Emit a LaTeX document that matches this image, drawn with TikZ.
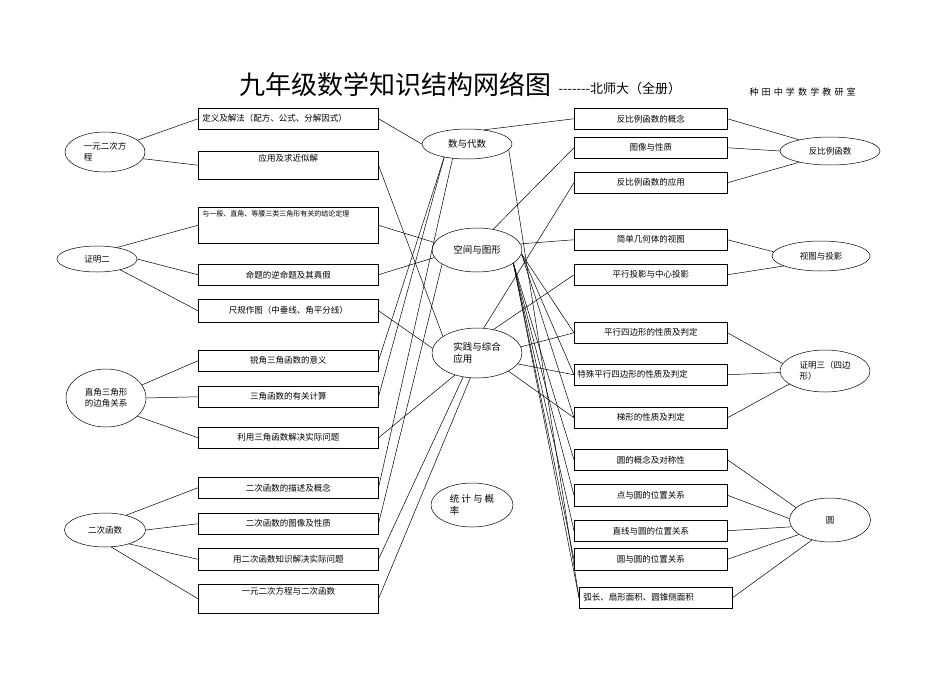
\documentclass[tikz,border=0pt]{standalone}
\usepackage{fontspec}
\setmainfont{Noto Sans CJK SC}
\newfontfamily\spacedcjk[LetterSpace=35]{Noto Sans CJK SC}
\usetikzlibrary{shapes.geometric}
\tikzset{
  box/.style={draw, line width=0.5pt, anchor=north west, minimum width=180, minimum height=21, inner sep=2pt, font=\fontsize{8.5}{10}\selectfont},
  rbox/.style={box, minimum width=153},
  oval/.style={draw, ellipse, line width=0.5pt, inner sep=0pt, align=left, font=\fontsize{8.5}{11}\selectfont},
  link/.style={line width=0.5pt}
}
\begin{document}
\begin{tikzpicture}[x=1pt, y=-1pt]
    \useasboundingbox (0,0) rectangle (950,672);
    \node[anchor=west, font=\fontsize{26}{28}\selectfont] (title) at (236,84) {九年级数学知识结构网络图};
    \node[anchor=west, font=\fontsize{13}{15}\selectfont] (sub) at (555,89) {-{}-{}-{}-{}-{}-{}-北师大（全册）};
    \node[anchor=west, font=\spacedcjk\fontsize{9}{10}\selectfont] (school) at (746,92) {种田中学数学教研室};

    \node[oval, minimum width=80, minimum height=40] (fc) at (105,152) {一元二次方\\程};
    \node[oval, minimum width=80, minimum height=26] (zm2) at (97,259) {证明二};
    \node[oval, minimum width=80, minimum height=58] (sj) at (106,398) {直角三角形\\的边角关系};
    \node[oval, minimum width=81, minimum height=34] (ec) at (105,530) {二次函数};

    \node[box, align=left, text width=172, inner xsep=4pt] (d1) at (198,108) {定义及解法（配方、公式、分解因式）};
    \node[box, minimum height=28, text depth=14pt] (d2) at (198,151) {应用及求近似解};
    \node[box, minimum height=36, text depth=24pt, align=left, text width=172, inner xsep=4pt, font=\fontsize{7}{8}\selectfont] (d3) at (198,207) {与一般、直角、等腰三类三角形有关的结论定理};
    \node[box, minimum height=21] (d4) at (198,264) {命题的逆命题及其真假};
    \node[box, minimum height=23] (d5) at (198,299) {尺规作图（中垂线、角平分线）};
    \node[box] (d6) at (198,350) {锐角三角函数的意义};
    \node[box] (d7) at (198,386) {三角函数的有关计算};
    \node[box] (d8) at (198,427) {利用三角函数解决实际问题};
    \node[box] (d9) at (198,477) {二次函数的描述及概念};
    \node[box] (d10) at (198,513) {二次函数的图像及性质};
    \node[box, minimum height=22] (d11) at (198,548) {用二次函数知识解决实际问题};
    \node[box, minimum height=29, text depth=15pt] (d12) at (198,584) {一元二次方程与二次函数};

    \node[oval, minimum width=90, minimum height=30, font=\fontsize{9.5}{11}\selectfont] (sd) at (467,144) {数与代数};
    \node[oval, minimum width=90, minimum height=44, font=\fontsize{9.5}{11}\selectfont] (kj) at (477,250) {空间与图形};
    \node[oval, minimum width=90, minimum height=50, font=\fontsize{9.5}{12}\selectfont] (sz) at (477,353) {实践与综合\\应用};
    \node[oval, minimum width=82, minimum height=44, font=\fontsize{9.5}{12}\selectfont] (tg) at (472,505) {统 计 与 概\\率};

    \node[rbox] (r1) at (574,108) {反比例函数的概念};
    \node[rbox] (r2) at (574,137) {图像与性质};
    \node[rbox] (r3) at (574,172) {反比例函数的应用};
    \node[rbox] (r4) at (574,229) {简单几何体的视图};
    \node[rbox] (r5) at (574,264) {平行投影与中心投影};
    \node[rbox] (r6) at (574,322) {平行四边形的性质及判定};
    \node[rbox, align=left, text width=147] (r7) at (574,364) {特殊平行四边形的性质及判定};
    \node[rbox] (r8) at (574,407) {梯形的性质及判定};
    \node[rbox] (r9) at (574,449) {圆的概念及对称性};
    \node[rbox, minimum height=22] (r10) at (574,484) {点与圆的位置关系};
    \node[rbox] (r11) at (574,520) {直线与圆的位置关系};
    \node[rbox, minimum height=22] (r12) at (574,548) {圆与圆的位置关系};
    \node[rbox, align=left, text width=145, inner xsep=4pt] (r13) at (579,587) {弧长、扇形面积、圆锥侧面积};

    \node[oval, minimum width=100, minimum height=28] (fb) at (830,151) {反比例函数};
    \node[oval, minimum width=98, minimum height=30] (st) at (821,256) {视图与投影};
    \node[oval, minimum width=90, minimum height=42] (zm3) at (825,371) {证明三（四边\\形）};
    \node[oval, minimum width=81, minimum height=44] (yuan) at (830,520) {圆};

    \draw[link] (fc.20) -- (d1.west);
    \draw[link] (fc.350) -- (d2.west);
    \draw[link] (zm2.30) -- (d3.west);
    \draw[link] (zm2.east) -- (d4.west);
    \draw[link] (zm2.335) -- (d5.west);
    \draw[link] (sj.20) -- (d6.west);
    \draw[link] (sj.east) -- (d7.west);
    \draw[link] (sj.330) -- (d8.west);
    \draw[link] (ec.35) -- (d9.west);
    \draw[link] (ec.east) -- (d10.west);
    \draw[link] (ec.330) -- (d11.west);
    \draw[link] (ec.290) -- (d12.west);

    \draw[link] (d1.east) -- (sd.west);
    \draw[link] (d2.east) -- (sz.154);
    \draw[link] (d3.east) -- (kj.170);
    \draw[link] (d4.east) -- (kj.190);
    \draw[link] (d5.east) -- (sz.174);
    \draw[link] (sd.210) -- (d6.east);
    \draw[link] (sd.210) -- (d7.east);
    \draw[link] (sd.225) -- (d9.east);
    \draw[link] (kj.202) -- (d10.east);
    \draw[link] (sz.225) -- (d8.east);
    \draw[link] (sz.240) -- (d11.east);
    \draw[link] (sz.255) -- (d12.east);

    \draw[link] (sd.40) -- (r1.west);
    \draw[link] (kj.52) -- (r2.west);
    \draw[link] (sz.75) -- (r3.west);
    \draw[link] (kj.8) -- (r4.west);
    \draw[link] (sz.55) -- (r5.west);
    \draw[link] (kj.355) -- (r6.west);
    \draw[link] (kj.355) -- (r7.west);
    \draw[link] (kj.355) -- (r8.west);
    \draw[link] (sz.8) -- (r6.west);
    \draw[link] (sz.345) -- (r7.west);
    \draw[link] (sz.330) -- (r8.west);
    \draw[link] (kj.340) -- (r9.west);
    \draw[link] (kj.340) -- (r10.west);
    \draw[link] (kj.340) -- (r11.west);
    \draw[link] (kj.340) -- (r12.west);
    \draw[link] (kj.340) -- (r13.west);
    \draw[link] (sd.352) -- (r13.west);

    \draw[link] (r1.east) -- (fb.160);
    \draw[link] (r2.east) -- (fb.west);
    \draw[link] (r3.east) -- (fb.200);
    \draw[link] (r4.east) -- (st.175);
    \draw[link] (r5.east) -- (st.195);
    \draw[link] (r6.east) -- (zm3.170);
    \draw[link] (r7.east) -- (zm3.182);
    \draw[link] (r8.east) -- (zm3.200);
    \draw[link] (r9.east) -- (yuan.160);
    \draw[link] (r10.east) -- (yuan.178);
    \draw[link] (r11.east) -- (yuan.190);
    \draw[link] (r12.east) -- (yuan.205);
    \draw[link] (r13.east) -- (yuan.228);
\end{tikzpicture}
\end{document}
